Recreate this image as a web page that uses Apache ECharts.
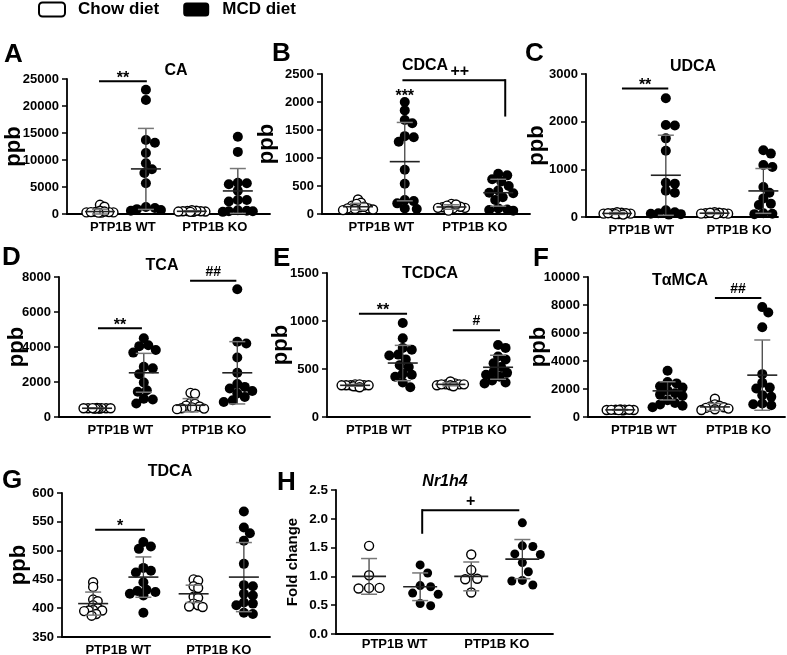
<!DOCTYPE html>
<html>
<head>
<meta charset="utf-8">
<script src="https://cdn.jsdelivr.net/npm/echarts@6/dist/echarts.min.js"></script>
<style>
html,body{margin:0;padding:0;background:#fff;}
#chart{width:787px;height:655px;}
</style>
</head>
<body>
<div id="chart"></div>
<script>
// ---------------- DATA ----------------
const categories = ['PTP1B WT', 'PTP1B KO'];
const legendNames = ['Chow diet', 'MCD diet'];
const panelLetters = ['A','B','C','D','E','F','G','H'];
const panelTitles = ['CA','CDCA','UDCA','TCA','TCDCA','T\u03b1MCA','TDCA','Nr1h4'];
const yAxisNames = ['ppb','ppb','ppb','ppb','ppb','ppb','ppb','Fold change'];

// CA
const caWtChow = [250, 300, 350, 400, 300, 1700, 1350, 600, 450, 350, 250];
const caWtMcd  = [23000, 21100, 13700, 13200, 11300, 9400, 8300, 7600, 5700, 1300, 1100, 900, 750, 600];
const caKoChow = [400, 450, 500, 550, 600, 700, 500, 450, 400];
const caKoMcd  = [14300, 11500, 5800, 5700, 5500, 4300, 2600, 2600, 2300, 700, 600, 500, 500, 400];
const caMean = [450, 8350, 500, 4270];
const caSd   = [450, 7500, 100, 4150];

// CDCA
const cdWtChow = [100, 80, 120, 260, 200, 150, 180, 100, 90, 130, 70];
const cdWtMcd  = [2000, 1850, 1680, 1620, 1390, 1370, 1290, 790, 540, 250, 230, 190, 100, 90];
const cdKoChow = [110, 120, 100, 130, 180, 170, 150, 60, 110];
const cdKoMcd  = [720, 690, 620, 580, 500, 420, 380, 370, 300, 250, 100, 80, 70, 60];
const cdMean = [130, 935, 125, 380];
const cdSd   = [60, 700, 40, 240];

// UDCA
const udWtChow = [60, 70, 80, 90, 100, 80, 70, 60, 50, 80];
const udWtMcd  = [2490, 1930, 1920, 1650, 1390, 720, 700, 550, 510, 140, 100, 80, 70, 60, 50];
const udKoChow = [70, 80, 90, 100, 80, 60, 70, 90];
const udKoMcd  = [1400, 1330, 1090, 1050, 630, 510, 390, 280, 250, 80, 70, 60, 50];
const udMean = [75, 876, 80, 547];
const udSd   = [20, 840, 15, 470];

// TCA
const tcaWtChow = [480, 500, 500, 510, 490, 500, 520, 480, 500, 490, 510];
const tcaWtMcd  = [4500, 4100, 4050, 3830, 3680, 2870, 2780, 2450, 1970, 1530, 1440, 1050, 1000, 770];
const tcaKoChow = [1380, 1330, 800, 750, 650, 600, 550, 500, 480, 450];
const tcaKoMcd  = [7300, 4300, 4200, 3400, 2530, 1880, 1720, 1630, 1490, 1340, 1150, 960, 860];
const tcaMean = [500, 2526, 670, 2526];
const tcaSd   = [20, 1110, 380, 1780];

// TCDCA
const tcdWtChow = [320, 330, 330, 340, 330, 320, 340, 330, 310, 330];
const tcdWtMcd  = [980, 820, 720, 700, 650, 640, 600, 540, 520, 450, 440, 420, 360, 310];
const tcdKoChow = [340, 350, 330, 340, 370, 340, 330, 320, 340];
const tcdKoMcd  = [750, 720, 630, 600, 560, 520, 470, 460, 440, 420, 380, 360, 350];
const tcdMean = [330, 562, 340, 518];
const tcdSd   = [10, 184, 15, 125];

// TaMCA
const tmWtChow = [500, 520, 540, 500, 480, 510, 530, 500, 520, 490];
const tmWtMcd  = [3300, 2500, 2400, 2200, 2100, 1900, 1700, 1600, 1500, 1200, 1000, 900, 800, 700];
const tmKoChow = [1300, 900, 800, 750, 700, 650, 600, 550, 500];
const tmKoMcd  = [7850, 7460, 6410, 3060, 2440, 2100, 2030, 1560, 1440, 960, 910, 840];
const tmMean = [510, 1866, 720, 2990];
const tmSd   = [30, 650, 250, 2510];

// TDCA
const tdWtChow = [445, 437, 415, 412, 405, 400, 397, 396, 396, 395, 390, 387];
const tdWtMcd  = [515, 507, 503, 470, 465, 462, 445, 432, 430, 428, 425, 422, 392];
const tdKoChow = [450, 448, 438, 435, 420, 418, 408, 405, 403, 402];
const tdKoMcd  = [568, 540, 530, 517, 477, 440, 438, 425, 422, 410, 408, 405, 392, 390];
const tdMean = [408, 454, 425, 454];
const tdSd   = [20, 35, 15, 60];

// Nr1h4
const nrWtChow = [1.53, 1.02, 0.80, 0.79, 0.80];
const nrWtMcd  = [1.20, 1.06, 0.84, 0.82, 0.71, 0.69, 0.53, 0.49];
const nrKoChow = [1.38, 1.11, 0.96, 0.95, 0.72];
const nrKoMcd  = [1.93, 1.53, 1.52, 1.39, 1.38, 1.24, 1.08, 0.93, 0.92, 0.85];
const nrMean = [1.00, 0.82, 1.00, 1.30];
const nrSd   = [0.31, 0.24, 0.25, 0.34];

// y-axis ranges [min, max, interval]
const yRanges = [[0,25000,5000],[0,2500,500],[0,3000,1000],[0,8000,2000],[0,1500,500],[0,10000,2000],[350,600,50],[0,2.5,0.5]];

// significance marks
const sigA = [{x1:0.98, x2:2.02, y:24600, text:'**'}];
const sigB = [{x1:2, x2:2, y:2036, text:'***', noLine:true}, {x1:1.95, x2:4.15, y:2390, text:'++', dropRight:1740, dx:6}];
const sigC = [{x1:1.1, x2:2.05, y:2698, text:'**'}];
const sigD = [{x1:1.02, x2:1.96, y:5072, text:'**'}, {x1:2.99, x2:3.98, y:7789, text:'##'}];
const sigE = [{x1:1.08, x2:2.09, y:1076, text:'**'}, {x1:3.05, x2:4.04, y:903, text:'#'}];
const sigF = [{x1:3.0, x2:3.98, y:8493, text:'##'}];
const sigG = [{x1:1.04, x2:2.03, y:536, text:'*'}];
const sigH = [{x1:2.04, x2:3.94, y:2.15, text:'+', dropLeft:1.74}];

// ---------------- LAYOUT ----------------
const FONT = '"Liberation Sans", Arial, Helvetica, sans-serif';
const groupX = [1, 2, 3, 4];

const panels = [
  {groups:[caWtChow,caWtMcd,caKoChow,caKoMcd], mean:caMean, sd:caSd, sig:sigA,
   left:67, top:79, width:203, height:135, xMin:0.283, xMax:4.70, nameGap:42, letter:[4,42], title:[176,63]},
  {groups:[cdWtChow,cdWtMcd,cdKoChow,cdKoMcd], mean:cdMean, sd:cdSd, sig:sigB,
   left:322, top:74, width:208, height:140, xMin:0.229, xMax:4.68, nameGap:44, letter:[272,41], title:[425,58]},
  {groups:[udWtChow,udWtMcd,udKoChow,udKoMcd], mean:udMean, sd:udSd, sig:sigC,
   left:586, top:74, width:192, height:143, xMin:0.363, xMax:4.30, nameGap:38, letter:[525,41], title:[693,59]},
  {groups:[tcaWtChow,tcaWtMcd,tcaKoChow,tcaKoMcd], mean:tcaMean, sd:tcaSd, sig:sigD,
   left:59, top:277, width:211, height:140, xMin:0.186, xMax:4.70, nameGap:31, letter:[2,245], title:[162,258]},
  {groups:[tcdWtChow,tcdWtMcd,tcdKoChow,tcdKoMcd], mean:tcdMean, sd:tcdSd, sig:sigE,
   left:327, top:273, width:203, height:144, xMin:0.41, xMax:4.67, nameGap:35, letter:[273,246], title:[430,266]},
  {groups:[tmWtChow,tmWtMcd,tmKoChow,tmKoMcd], mean:tmMean, sd:tmSd, sig:sigF,
   left:588, top:277, width:197, height:140, xMin:0.32, xMax:4.48, nameGap:38, letter:[533,246], title:[680,273]},
  {groups:[tdWtChow,tdWtMcd,tdKoChow,tdKoMcd], mean:tdMean, sd:tdSd, sig:sigG,
   left:62, top:493, width:208, height:144, xMin:0.38, xMax:4.52, nameGap:32, letter:[2,468], title:[170,464]},
  {groups:[nrWtChow,nrWtMcd,nrKoChow,nrKoMcd], mean:nrMean, sd:nrSd, sig:sigH,
   left:336, top:490, width:217, height:144, xMin:0.353, xMax:4.60, nameGap:36, letter:[277,470], title:[445,474],
   wide:true}
];

// deterministic beeswarm: returns horizontal pixel offsets
function swarm(values, pxPerY, sep, maxHalf, step) {
  const order = values.map((v, i) => i).sort((a, b) => values[b] - values[a]);
  const placed = [];
  const offs = new Array(values.length).fill(0);
  const cands = [0];
  for (let k = 1; k * step <= maxHalf; k++) { cands.push(k * step, -k * step); }
  for (const i of order) {
    const y = values[i] * pxPerY;
    let best = 0, bestScore = -1;
    for (const c of cands) {
      let minD = Infinity;
      for (const p of placed) {
        const d = Math.hypot(p.x - c, p.y - y);
        if (d < minD) minD = d;
      }
      if (minD >= sep) { best = c; bestScore = Infinity; break; }
      if (minD > bestScore + 0.5) { bestScore = minD; best = c; }
    }
    placed.push({x: best, y: y});
    offs[i] = best;
  }
  return offs;
}

const grids = [], xAxes = [], yAxes = [], series = [], titles = [];

panels.forEach((p, i) => {
  const [yMin, yMax, yInt] = yRanges[i];
  grids.push({left: p.left, top: p.top, width: p.width, height: p.height, containLabel: false, outerBoundsMode: 'none'});
  xAxes.push({
    type: 'value', gridIndex: i, min: p.xMin, max: p.xMax,
    axisLine: {show: true, onZero: false, lineStyle: {color: '#000', width: 1.8}},
    axisTick: {show: false}, splitLine: {show: false},
    axisLabel: {
      customValues: [1.5, 3.5], margin: p.wide ? 4 : 7,
      formatter: v => (v < 2.5 ? categories[0] : categories[1]),
      color: '#000', fontWeight: 'bold', fontSize: 13, fontFamily: FONT
    }
  });
  yAxes.push({
    type: 'value', gridIndex: i, min: yMin, max: yMax, interval: yInt,
    name: yAxisNames[i], nameLocation: 'middle', nameGap: p.nameGap, nameRotate: 90,
    nameMoveOverlap: false,
    nameTextStyle: {color: '#000', fontWeight: 'bold', fontSize: p.wide ? 15 : 22, fontFamily: FONT},
    axisLine: {show: true, onZero: false, lineStyle: {color: '#000', width: 1.8}},
    axisTick: {show: true, length: 5, lineStyle: {color: '#000', width: 1.5}},
    splitLine: {show: false},
    axisLabel: {
      margin: 8, color: '#000', fontWeight: 'bold', fontSize: p.wide ? 13.5 : 13, fontFamily: FONT,
      formatter: v => (p.wide ? v.toFixed(1) : String(v))
    }
  });

  const pxPerY = p.height / (yMax - yMin);
  const pxPerX = p.width / (p.xMax - p.xMin);

  p.groups.forEach((vals, g) => {
    const isChow = g % 2 === 0;
    const dot = p.wide ? 9 : (isChow ? 9 : 10);
    const sep = p.wide ? 10.4 : (isChow ? 0.5 * dot : 0.8 * dot);
    const maxHalf = p.wide ? 22 : 15;
    const offs = swarm(vals, pxPerY, sep, maxHalf, 1.5);
    series.push({
      type: 'scatter', name: isChow ? legendNames[0] : legendNames[1],
      xAxisIndex: i, yAxisIndex: i, symbol: 'circle', symbolSize: dot, z: 2,
      itemStyle: isChow ? {color: '#fff', borderColor: '#000', borderWidth: 1.4, opacity: 1}
                        : {color: '#000', opacity: 1},
      emphasis: {disabled: true},
      data: vals.map((v, k) => [groupX[g] + offs[k] / pxPerX, v])
    });
  });

  // mean +/- SD
  const half = p.wide ? 17 : 15;
  series.push({
    type: 'custom', xAxisIndex: i, yAxisIndex: i, z: 5, silent: true,
    data: groupX.map((x, g) => [x, p.mean[g], p.sd[g]]),
    renderItem: (params, api) => {
      const x = api.value(0), m = api.value(1), s = api.value(2);
      const c = api.coord([x, m]);
      const t = api.coord([x, m + s]);
      const b = api.coord([x, Math.max(m - s, yMin)]);
      const cap = 8;
      return {type: 'group', children: [
        {type: 'line', shape: {x1: c[0], y1: t[1], x2: c[0], y2: b[1]}, style: {stroke: '#444', lineWidth: 1.3}},
        {type: 'line', shape: {x1: c[0] - cap, y1: t[1], x2: c[0] + cap, y2: t[1]}, style: {stroke: '#777', lineWidth: 1.5}},
        {type: 'line', shape: {x1: c[0] - cap, y1: b[1], x2: c[0] + cap, y2: b[1]}, style: {stroke: '#777', lineWidth: 1.5}},
        {type: 'line', shape: {x1: c[0] - half, y1: c[1], x2: c[0] + half, y2: c[1]}, style: {stroke: '#222', lineWidth: 1.6}}
      ]};
    }
  });

  // significance marks
  const sig = p.sig;
  series.push({
    type: 'custom', xAxisIndex: i, yAxisIndex: i, z: 6, silent: true, clip: false,
    data: sig.map(a => [a.x1, a.y, a.x2]),
    renderItem: (params, api) => {
      const a = sig[params.dataIndex];
      const p1 = api.coord([a.x1, a.y]);
      const p2 = api.coord([a.x2, a.y]);
      const ch = [];
      if (!a.noLine) ch.push({type: 'line', shape: {x1: p1[0], y1: p1[1], x2: p2[0], y2: p2[1]}, style: {stroke: '#000', lineWidth: 2}});
      if (a.dropRight != null) {
        const d = api.coord([a.x2, a.dropRight]);
        ch.push({type: 'line', shape: {x1: p2[0], y1: p2[1] - 1, x2: d[0], y2: d[1]}, style: {stroke: '#000', lineWidth: 2}});
      }
      if (a.dropLeft != null) {
        const d = api.coord([a.x1, a.dropLeft]);
        ch.push({type: 'line', shape: {x1: p1[0], y1: p1[1] - 1, x2: d[0], y2: d[1]}, style: {stroke: '#000', lineWidth: 2}});
      }
      const isStar = a.text.indexOf('*') >= 0;
      ch.push({type: 'text', x: (p1[0] + p2[0]) / 2 + (a.dx || 0), y: p1[1] - (isStar ? 3 : 9),
        style: {text: a.text, fill: '#000', align: 'center', verticalAlign: 'middle',
                font: 'bold ' + (a.text.indexOf('#') >= 0 ? 14 : 16) + 'px ' + FONT}});
      return {type: 'group', children: ch};
    }
  });

  titles.push({text: panelLetters[i], left: p.letter[0], top: p.letter[1], padding: 0,
    textStyle: {color: '#000', fontWeight: 'bold', fontSize: 26, fontFamily: FONT}});
  titles.push({text: panelTitles[i], left: p.title[0], top: p.title[1], padding: 0, textAlign: 'center',
    textStyle: {color: '#000', fontWeight: 'bold', fontSize: 16, fontFamily: FONT, fontStyle: p.wide ? 'italic' : 'normal'}});
});

const chart = echarts.init(document.getElementById('chart'), null, {renderer: 'canvas'});
chart.setOption({
  animation: false,
  backgroundColor: '#fff',
  title: titles,
  legend: {
    left: 38, top: 1, padding: 0, itemWidth: 26, itemHeight: 14, itemGap: 24, icon: 'roundRect',
    selectedMode: false,
    textStyle: {color: '#000', fontWeight: 'bold', fontSize: 17, fontFamily: FONT, padding: [0, 0, 0, 8]},
    data: [
      {name: legendNames[0], itemStyle: {color: '#fff', borderColor: '#000', borderWidth: 2}},
      {name: legendNames[1], itemStyle: {color: '#000', borderColor: '#000', borderWidth: 0}}
    ]
  },
  grid: grids,
  xAxis: xAxes,
  yAxis: yAxes,
  series: series
});
</script>
</body>
</html>
